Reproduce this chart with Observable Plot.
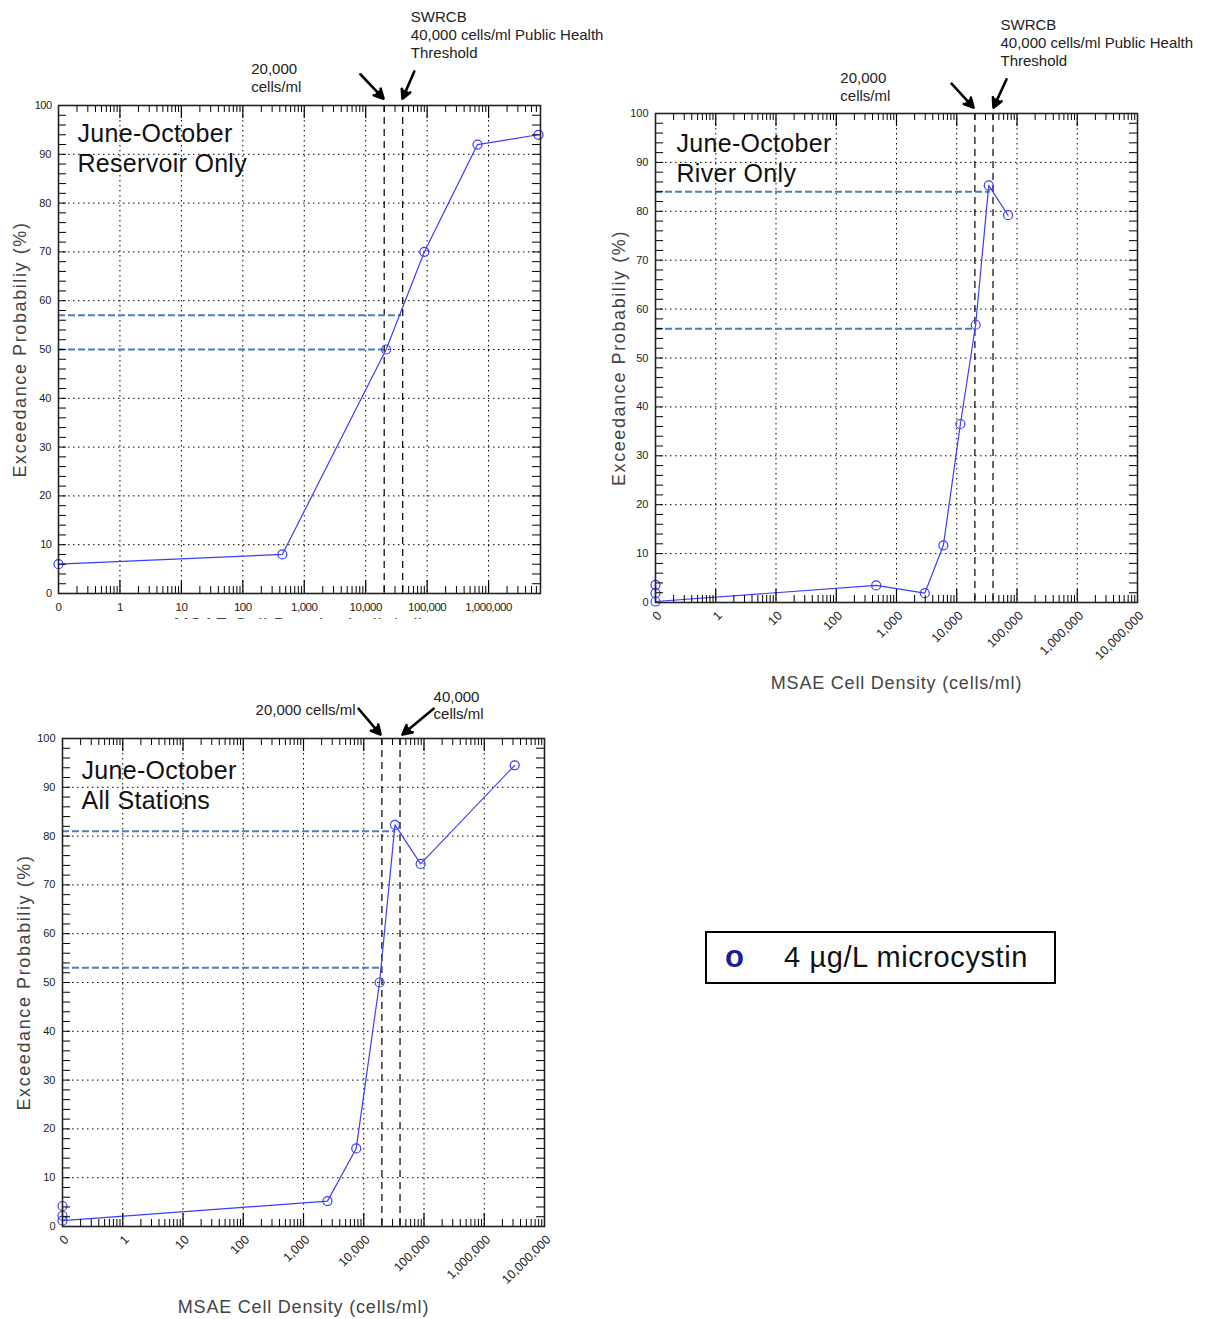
<!DOCTYPE html>
<html><head><meta charset="utf-8">
<script src="https://cdn.jsdelivr.net/npm/d3@7"></script>
<script src="https://cdn.jsdelivr.net/npm/@observablehq/plot@0.6"></script>
<style>
body{margin:0;background:#fff;}
#page{position:relative;width:1214px;height:1319px;overflow:hidden;background:#fff;font-family:"Liberation Sans",Arial,sans-serif;}
.panel{position:absolute;}
.panel svg{overflow:hidden;}
#legend{position:absolute;left:705px;top:931px;width:351px;height:53px;box-sizing:border-box;border:2px solid #000;background:#fff;}
#legend .sym{position:absolute;left:18px;top:6px;font:bold 31px "Liberation Sans",Arial,sans-serif;color:#1c1c9c;}
#legend .lab{position:absolute;left:77px;top:8px;font:29px "Liberation Sans",Arial,sans-serif;letter-spacing:0.6px;color:#111;}
</style></head><body>
<div id="page">
  <div class="panel" id="p1" style="left:0;top:0;"></div>
  <div class="panel" id="p2" style="left:600px;top:0;"></div>
  <div class="panel" id="p3" style="left:0;top:680px;"></div>
  <div id="legend"><span class="sym">o</span><span class="lab">4 µg/L microcystin</span></div>
</div>
<script>
// ---------- shared axis data ----------
const decadeValues = [0.1, 1, 10, 100, 1000, 10000, 100000, 1000000, 10000000];
const decadeLabels = ["0", "1", "10", "100", "1,000", "10,000", "100,000", "1,000,000", "10,000,000"];
const yTickValues = [0, 10, 20, 30, 40, 50, 60, 70, 80, 90, 100];
const thresholds = [20000, 40000];
const xTitle = "MSAE Cell Density (cells/ml)";
const yTitle = "Exceedance Probabiliy (%)";

// ---------- Panel 1: Reservoir only ----------
const resTitle = "June-October\nReservoir Only";
const resX = [0.1, 440, 21500, 90000, 660000, 6500000];
const resY = [6, 8, 50, 70, 92, 94];
const resRefY = [57, 50];
const resRefXEnd = [38500, 20000];
const resNoteX = [137, 54300];
const resNoteY = [109.0, 119.8];
const resNoteText = ["20,000\ncells/ml", "SWRCB\n40,000 cells/ml Public Health\nThreshold"];
const resArrowX1 = [8200, 62000], resArrowY1 = [106.4, 107.0];
const resArrowX2 = [19500, 39700], resArrowY2 = [101.4, 101.4];

// ---------- Panel 2: River only ----------
const rivTitle = "June-October\nRiver Only";
const rivX = [0.1, 0.1, 0.1, 460, 2950, 6000, 11500, 20600, 34000, 71000];
const rivY = [3.6, 1.9, 0.2, 3.5, 1.9, 11.7, 36.5, 56.8, 85.3, 79.2];
const rivRefY = [84, 56];
const rivRefXEnd = [36000, 20000];
const rivNoteX = [117, 53200];
const rivNoteY = [108.8, 119.6];
const rivNoteText = ["20,000\ncells/ml", "SWRCB\n40,000 cells/ml Public Health\nThreshold"];
const rivArrowX1 = [8200, 67000], rivArrowY1 = [106.1, 107.0];
const rivArrowX2 = [19000, 40700], rivArrowY2 = [101.2, 101.2];

// ---------- Panel 3: All stations ----------
const allTitle = "June-October\nAll Stations";
const allX = [0.1, 0.1, 0.1, 2500, 7500, 18300, 33000, 88000, 3200000];
const allY = [4.2, 2.2, 1.2, 5.2, 16, 50, 82.3, 74.3, 94.5];
const allRefY = [81, 53];
const allRefXEnd = [34000, 20000];
const allNoteX = [160, 144000];
const allNoteY = [107.5, 110.2];
const allNoteText = ["20,000 cells/ml", "40,000\ncells/ml"];
const allArrowX1 = [8200, 144000], allArrowY1 = [106.1, 106.1];
const allArrowX2 = [19000, 44000], allArrowY2 = [100.8, 100.8];

const dataColor = "#3c3cff";
const refColor = "#4a7ebb";
const labelMap = new Map(decadeValues.map((v, i) => [v, decadeLabels[i]]));

function zip(xs, ys) { return xs.map((x, i) => ({x, y: ys[i]})); }

function makePanel(cfg) {
  const {width, height, ml, mr, mt, mb, xmax, rotate} = cfg;
  const pw = width - ml - mr, ph = height - mt - mb;
  const majors = decadeValues.filter(v => v <= xmax);
  const inner = majors.filter(v => v > 0.1 && v < xmax);
  const minors = [];
  for (let p = -1; p < 8; p++) for (let m = 2; m <= 9; m++) { const v = m * Math.pow(10, p); if (v < xmax) minors.push(v); }
  const yMinor = d3.range(2, 100, 2);
  const yGrid = yTickValues.filter(v => v > 0 && v < 100);
  const pts = zip(cfg.xs, cfg.ys);
  const refs = cfg.refY.map((y, i) => ({y, x2: cfg.refXEnd[i]}));
  const notes = cfg.noteText.map((t, i) => ({x: cfg.noteX[i], y: cfg.noteY[i], t}));
  const arrows = cfg.ax1.map((x1, i) => ({x1, y1: cfg.ay1[i], x2: cfg.ax2[i], y2: cfg.ay2[i]}));
  const marks = [
    Plot.ruleX(inner, {x: d => d, stroke: "#000", strokeWidth: 1, strokeDasharray: "1.5,3.5"}),
    Plot.ruleY(yGrid, {y: d => d, stroke: "#000", strokeWidth: 1, strokeDasharray: "1.5,3.5"}),
    Plot.ruleX(thresholds, {x: d => d, stroke: "#000", strokeWidth: 1.2, strokeDasharray: "7,5"}),
    Plot.ruleY(refs, {y: "y", x1: 0.1, x2: "x2", stroke: refColor, strokeWidth: 2, strokeDasharray: "7,3"}),
    Plot.line(pts, {x: "x", y: "y", stroke: dataColor, strokeWidth: 1.2}),
    Plot.dot(pts, {x: "x", y: "y", r: 4.5, stroke: dataColor, strokeWidth: 1.2, fill: "none"}),
    // inward tick marks
    Plot.tickX(minors, {x: d => d, insetTop: ph - 7, stroke: "#000", strokeWidth: 1}),
    Plot.tickX(minors, {x: d => d, insetBottom: ph - 7, stroke: "#000", strokeWidth: 1}),
    Plot.tickX(inner, {x: d => d, insetTop: ph - 13, stroke: "#000", strokeWidth: 1.2}),
    Plot.tickX(inner, {x: d => d, insetBottom: ph - 13, stroke: "#000", strokeWidth: 1.2}),
    Plot.tickY(yMinor, {y: d => d, insetRight: pw - 8, stroke: "#000", strokeWidth: 1}),
    Plot.tickY(yMinor, {y: d => d, insetLeft: pw - 8, stroke: "#000", strokeWidth: 1}),
    Plot.frame({stroke: "#222", strokeWidth: 1.6}),
    Plot.axisX({ticks: majors, tickFormat: d => labelMap.get(d), tickSize: 0,
      tickPadding: rotate ? 11 : 9, tickRotate: rotate ? -45 : 0, dx: rotate ? 4 : 0,
      fontSize: rotate ? 12.5 : 11.5, fill: "#222", label: null}),
    Plot.axisY({ticks: yTickValues, tickSize: 0, tickPadding: 7, fontSize: 11, fill: "#222", label: null}),
    Plot.text([cfg.title], {frameAnchor: "top-left", dx: cfg.tdx, dy: cfg.tdy, text: d => d, textAnchor: "start",
      lineAnchor: "top", fontSize: 25, lineHeight: 1.2, fill: "#111"}),
    Plot.text([yTitle], {frameAnchor: "left", dx: -cfg.yTitleOff, rotate: -90, text: d => d, fontSize: 18,
      fill: "#444", textAnchor: "middle", lineAnchor: "middle"}),
    Plot.text([xTitle], {frameAnchor: "bottom", dy: cfg.xTitleOff, text: d => d, fontSize: 18, fill: "#444",
      textAnchor: "middle", lineAnchor: "middle"}),
    Plot.text(notes, {x: "x", y: "y", text: "t", textAnchor: "start", lineAnchor: "top", fontSize: 15,
      lineHeight: 1.2, fill: "#222"}),
    Plot.arrow(arrows, {x1: "x1", y1: "y1", x2: "x2", y2: "y2", stroke: "#000", fill: "#000",
      strokeWidth: 2.6, headLength: 6, headAngle: 55})
  ];
  const svg = Plot.plot({
    width, height, marginLeft: ml, marginRight: mr, marginTop: mt, marginBottom: mb,
    x: {type: "log", domain: [0.1, xmax]},
    y: {domain: [0, 100]},
    style: {fontFamily: "'Liberation Sans',Arial,sans-serif", fontSize: "12px", background: "transparent", color: "#000"},
    marks
  });
  svg.querySelectorAll("text").forEach(t => {
    const s = t.textContent;
    if (s === xTitle) t.setAttribute("letter-spacing", "0.8");
    else if (s === yTitle) t.setAttribute("letter-spacing", "1.6");
    else if (cfg.title.replace(/\n/g, "") === s) t.setAttribute("letter-spacing", "0.3");
    else if (!rotate && decadeLabels.includes(s)) t.setAttribute("letter-spacing", "-0.5");
  });
  return svg;
}

document.getElementById("p1").append(makePanel({
  width: 614, height: 619, ml: 58, mr: 74, mt: 105, mb: 26, xmax: 7000000, rotate: false,
  xs: resX, ys: resY, refY: resRefY, refXEnd: resRefXEnd, title: resTitle, tdx: 19, tdy: 15,
  noteX: resNoteX, noteY: resNoteY, noteText: resNoteText,
  ax1: resArrowX1, ay1: resArrowY1, ax2: resArrowX2, ay2: resArrowY2,
  yTitleOff: 38, xTitleOff: 32
}));
document.getElementById("p2").append(makePanel({
  width: 614, height: 700, ml: 55, mr: 77, mt: 113, mb: 98, xmax: 10000000, rotate: true,
  xs: rivX, ys: rivY, refY: rivRefY, refXEnd: rivRefXEnd, title: rivTitle, tdx: 21, tdy: 17,
  noteX: rivNoteX, noteY: rivNoteY, noteText: rivNoteText,
  ax1: rivArrowX1, ay1: rivArrowY1, ax2: rivArrowX2, ay2: rivArrowY2,
  yTitleOff: 36, xTitleOff: 81
}));
document.getElementById("p3").append(makePanel({
  width: 600, height: 639, ml: 62, mr: 56, mt: 58, mb: 93, xmax: 10000000, rotate: true,
  xs: allX, ys: allY, refY: allRefY, refXEnd: allRefXEnd, title: allTitle, tdx: 19, tdy: 19,
  noteX: allNoteX, noteY: allNoteY, noteText: allNoteText,
  ax1: allArrowX1, ay1: allArrowY1, ax2: allArrowX2, ay2: allArrowY2,
  yTitleOff: 38, xTitleOff: 81
}));
</script>
</body></html>
